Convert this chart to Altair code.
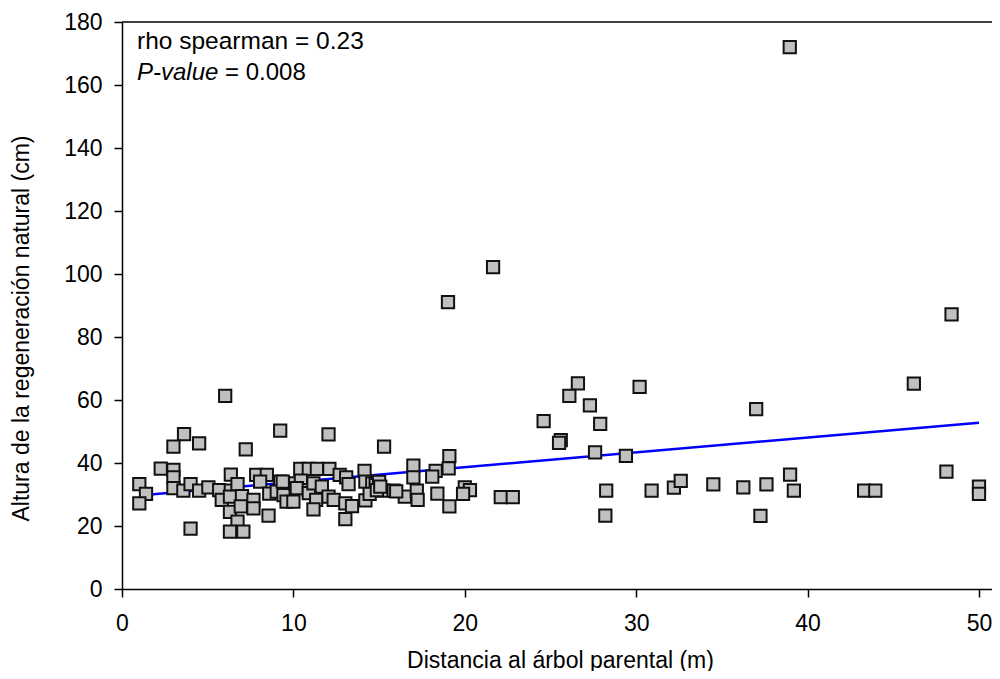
import altair as alt
import pandas as pd

# Distance to parent tree (m) and regeneration height (cm)
dist = [38.96, 21.65, 19.02, 48.4, 46.2, 26.6, 30.2, 26.1, 6.02, 27.3, 37.0, 24.6, 27.9,
        9.23, 3.62, 12.05, 25.6, 25.5, 4.5, 3.0, 15.29, 7.22, 27.6, 29.4, 19.1,
        28.25, 28.2, 30.9, 32.2, 32.6, 34.5, 36.25, 37.6, 37.25, 38.98, 39.2, 43.3, 43.95, 48.1, 50.0, 50.0,
        19.06, 18.3, 18.1, 18.4, 20.0, 20.3, 19.9, 19.1, 22.1, 22.8, 17.0, 17.0, 16.5, 17.2, 17.25,
        2.26, 3.0, 3.0, 1.01, 1.4, 1.01, 3.0, 3.58, 4.0, 4.5, 5.04, 5.67, 5.82, 6.35, 6.35, 6.3,
        6.74, 7.0, 6.3, 6.74, 6.3, 7.08, 6.93, 7.67, 7.67, 4.0, 7.83, 8.45, 8.06, 8.59, 8.55,
        9.23, 9.03, 9.42, 9.6, 10.4, 10.9, 11.37, 12.1, 12.7, 13.08, 13.22, 14.15, 14.2, 14.6,
        14.8, 15.0, 15.27, 15.85, 9.38, 10.0, 10.1, 10.44, 10.2, 10.9, 10.9, 11.17, 11.33, 11.17,
        11.66, 12.05, 12.35, 13.03, 13.42, 13.03, 14.2, 14.45, 14.87, 15.07, 16.0]
height = [172, 102.2, 91.1, 87.2, 65.2, 65.3, 64.2, 61.3, 61.3, 58.3, 57.1, 53.3, 52.4,
          50.3, 49.2, 49.1, 47.3, 46.4, 46.2, 45.2, 45.2, 44.3, 43.4, 42.3, 42.2,
          31.2, 23.3, 31.2, 32.2, 34.3, 33.2, 32.3, 33.2, 23.2, 36.3, 31.2, 31.2, 31.2, 37.3, 32.5, 30.2,
          38.3, 37.5, 35.7, 30.3, 32.3, 31.4, 30.2, 26.2, 29.2, 29.2, 39.2, 35.4, 29.3, 31.2, 28.3,
          38.2, 37.8, 35.4, 33.3, 30.2, 27.2, 32.0, 31.2, 33.3, 31.2, 32.3, 31.4, 28.3, 36.3, 31.2, 29.3,
          33.3, 29.5, 24.5, 21.4, 18.2, 18.2, 26.2, 28.3, 25.6, 19.2, 36.2, 36.2, 34.1, 30.3, 23.3,
          34.1, 30.9, 29.8, 27.7, 38.1, 38.1, 38.1, 38.1, 36.2, 35.4, 33.3, 37.5, 34.1, 33.5,
          33.0, 34.0, 31.2, 31.2, 34.1, 27.7, 33.5, 34.4, 32.0, 31.4, 30.4, 33.5, 28.3, 25.3,
          32.5, 29.3, 28.3, 27.2, 26.3, 22.2, 28.1, 30.2, 31.4, 32.5, 31.0]

# Fitted line end points
line_x = [1.0, 50.0]
line_y = [29.7, 52.8]

x_ticks = [0, 10, 20, 30, 40, 50]
y_ticks = [0, 20, 40, 60, 80, 100, 120, 140, 160, 180]

FONT = "Liberation Sans"

pts = pd.DataFrame({"d": dist, "h": height})
ln = pd.DataFrame({"d": line_x, "h": line_y})

x_scale = alt.Scale(domain=[0, 50.76], nice=False, zero=False)
y_scale = alt.Scale(domain=[0, 180], nice=False)

x_enc = alt.X("d:Q", scale=x_scale,
              axis=alt.Axis(title="Distancia al árbol parental (m)", values=x_ticks, grid=False,
                            labelFlush=False, labelPadding=15,
                            titleX=438, titleY=78, titleBaseline="alphabetic",
                            titleAlign="center"))
y_enc = alt.Y("h:Q", scale=y_scale,
              axis=alt.Axis(title="Altura de la regeneración natural (cm)", values=y_ticks, grid=False,
                            labelFlush=False,
                            titleX=-94, titleY=306, titleBaseline="alphabetic", titleAlign="center",
                            titleAngle=270))

line = alt.Chart(ln).mark_line(color="#0000ff", strokeWidth=2.6).encode(x=x_enc, y=y_enc)

points = alt.Chart(pts).mark_point(
    shape="square", filled=True, fill="#c0c0c0", stroke="#111111", strokeWidth=2,
    size=150, opacity=1, fillOpacity=1, strokeOpacity=1
).encode(x=x_enc, y=y_enc)

top = alt.Chart(pd.DataFrame({"h": [180]})).mark_rule(color="black", strokeWidth=1.5).encode(
    y=alt.Y("h:Q", scale=y_scale))

t1 = alt.Chart(pd.DataFrame({"t": ["rho spearman = 0.23"]})).mark_text(
    align="left", baseline="alphabetic", fontSize=24.5, font=FONT, color="black"
).encode(x=alt.value(15), y=alt.value(27), text="t:N")
t2 = alt.Chart(pd.DataFrame({"t": ["P-value"]})).mark_text(
    align="left", baseline="alphabetic", fontSize=24, font=FONT, fontStyle="italic", color="black"
).encode(x=alt.value(15), y=alt.value(58), text="t:N")
t3 = alt.Chart(pd.DataFrame({"t": ["= 0.008"]})).mark_text(
    align="left", baseline="alphabetic", fontSize=24, font=FONT, color="black"
).encode(x=alt.value(103), y=alt.value(58), text="t:N")

chart = alt.layer(line, points, top, t1, t2, t3).properties(
    width=870, height=567,
    autosize=alt.AutoSizeParams(type="none"),
    padding={"left": 114, "top": 14, "right": 0, "bottom": 82},
).configure_view(stroke=None).configure_axis(
    labelFont=FONT, labelFontSize=23, labelColor="black",
    titleFont=FONT, titleFontSize=23, titleColor="black", titleFontWeight="normal",
    domainColor="black", domainWidth=1.5, tickColor="black", tickWidth=1.5,
    tickSize=8, labelPadding=12,
)

chart.save("out.html", embed_options={"renderer": "svg", "actions": False})
